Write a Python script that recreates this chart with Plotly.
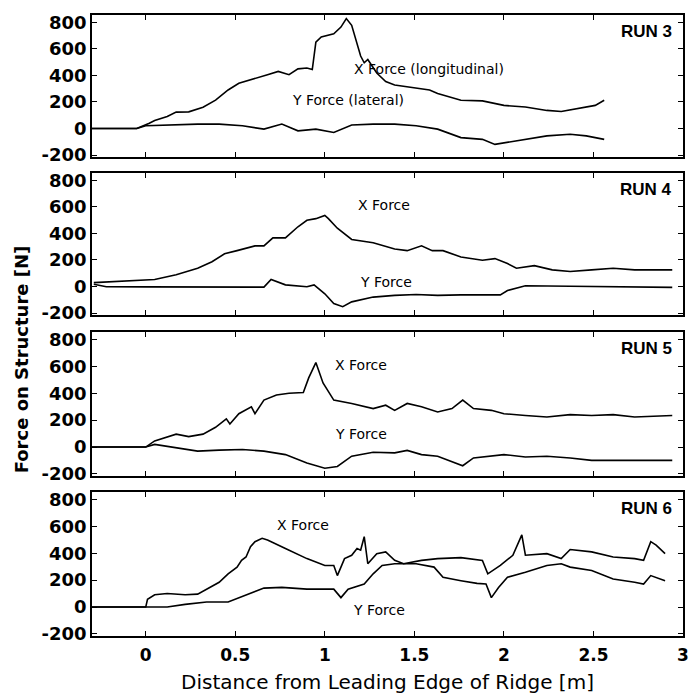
import plotly.graph_objects as go

# ---------------- data ----------------
run3_x_d = [-0.3, -0.05, 0.02, 0.05, 0.12, 0.17, 0.24, 0.32, 0.39, 0.46, 0.52, 0.61, 0.68, 0.74, 0.80, 0.85, 0.90, 0.93,
            0.95, 0.98, 1.05, 1.09, 1.12, 1.15, 1.20, 1.22, 1.24, 1.29, 1.34, 1.39, 1.51, 1.585, 1.63, 1.76, 1.88,
            2.00, 2.12, 2.24, 2.32, 2.41, 2.51, 2.56]
run3_x_f = [0, 0, 40, 60, 90, 123, 125, 160, 213, 290, 341, 380, 405, 430, 405, 449, 456, 444,
            650, 690, 713, 764, 828, 777, 546, 495, 520, 418, 354, 328, 302, 290, 264, 213, 208,
            174, 162, 136, 128, 149, 174, 213]
run3_y_d = [-0.3, -0.05, 0.0, 0.17, 0.29, 0.41, 0.54, 0.66, 0.76, 0.85, 0.95, 1.05, 1.15, 1.27, 1.39, 1.51, 1.63,
            1.76, 1.88, 1.95, 2.07, 2.24, 2.37, 2.46, 2.56]
run3_y_f = [0, 0, 20, 28, 33, 33, 20, -5, 33, -18, -5, -30, 26, 33, 33, 20, -5,
            -69, -82, -120, -95, -56, -44, -56, -82]

run4_x_d = [-0.29, -0.07, 0.05, 0.17, 0.29, 0.37, 0.44, 0.51, 0.61, 0.66, 0.71, 0.78, 0.85, 0.90, 0.95, 1.00, 1.02,
            1.07, 1.15, 1.27, 1.39, 1.46, 1.54, 1.60, 1.66, 1.76, 1.88, 1.95, 2.02, 2.07, 2.17, 2.27, 2.37,
            2.49, 2.61, 2.73, 2.94]
run4_x_f = [29, 41, 53, 89, 137, 186, 246, 270, 306, 306, 366, 366, 450, 499, 511, 535, 511,
            439, 354, 330, 282, 270, 306, 270, 270, 222, 198, 210, 173, 137, 157, 125, 113,
            125, 137, 125, 125]
run4_y_d = [-0.29, -0.22, 0.0, 0.3, 0.66, 0.70, 0.78, 0.90, 0.94, 1.00, 1.05, 1.10, 1.15, 1.27, 1.39, 1.51, 1.63,
            1.76, 1.88, 1.98, 2.02, 2.12, 2.37, 2.61, 2.94]
run4_y_f = [17, -2, -3, -4, -5, 53, 12, -2, 12, -55, -128, -152, -116, -80, -67, -60, -67,
            -63, -60, -63, -31, 5, 2, -2, -7]

run5_x_d = [-0.3, 0.0, 0.05, 0.17, 0.24, 0.32, 0.39, 0.45, 0.47, 0.52, 0.59, 0.61, 0.66, 0.73, 0.80, 0.88, 0.91,
            0.95, 0.99, 1.05, 1.15, 1.27, 1.34, 1.39, 1.46, 1.54, 1.63, 1.71, 1.77, 1.83, 1.93, 2.00, 2.12,
            2.24, 2.37, 2.49, 2.61, 2.73, 2.94]
run5_x_f = [0, 0, 46, 96, 78, 96, 147, 210, 172, 248, 299, 248, 349, 387, 400, 405, 514,
            628, 476, 349, 324, 286, 311, 273, 324, 299, 261, 286, 349, 286, 273, 248, 235,
            223, 241, 235, 241, 223, 235]
run5_y_d = [-0.3, 0.0, 0.05, 0.17, 0.29, 0.41, 0.54, 0.66, 0.78, 0.90, 1.00, 1.07, 1.15, 1.27, 1.39, 1.46, 1.54,
            1.63, 1.77, 1.83, 1.93, 2.00, 2.12, 2.24, 2.37, 2.49, 2.73, 2.94]
run5_y_f = [0, 0, 20, -5, -30, -23, -18, -30, -56, -119, -157, -144, -68, -38, -43, -25, -56,
            -68, -139, -81, -68, -56, -74, -68, -81, -99, -99, -99]

run6_x_d = [-0.3, 0.0, 0.01, 0.05, 0.12, 0.22, 0.29, 0.34, 0.41, 0.46, 0.51, 0.535, 0.56, 0.585, 0.61, 0.65, 0.68,
            0.78, 0.90, 1.00, 1.05, 1.07, 1.11, 1.15, 1.18, 1.20, 1.22, 1.24, 1.29, 1.34, 1.39, 1.44, 1.54,
            1.63, 1.76, 1.88, 1.91, 1.98, 2.05, 2.10, 2.12, 2.24, 2.32, 2.37, 2.49, 2.61, 2.73, 2.78, 2.82,
            2.85, 2.90]
run6_x_f = [0, 0, 58, 91, 101, 91, 96, 133, 184, 247, 297, 347, 372, 448, 486, 511, 498,
            435, 360, 309, 309, 234, 360, 385, 435, 423, 523, 322, 397, 410, 347, 322, 347,
            360, 367, 347, 247, 309, 385, 536, 385, 397, 360, 428, 410, 372, 360, 347, 486,
            460, 397]
run6_y_d = [-0.3, 0.12, 0.22, 0.34, 0.46, 0.56, 0.66, 0.76, 0.90, 1.05, 1.09, 1.13, 1.22, 1.27, 1.32, 1.39, 1.51,
            1.61, 1.66, 1.76, 1.85, 1.90, 1.93, 1.97, 2.02, 2.12, 2.24, 2.32, 2.37, 2.49, 2.61, 2.73, 2.78,
            2.82, 2.90]
run6_y_f = [0, 0, 20, 38, 38, 91, 141, 146, 133, 133, 70, 133, 171, 247, 309, 322, 322,
            297, 221, 196, 176, 171, 70, 146, 221, 259, 309, 322, 297, 272, 209, 184, 171,
            234, 196]

run_names = ["RUN 3", "RUN 4", "RUN 5", "RUN 6"]
x_labels = ["X Force (longitudinal)", "X Force", "X Force", "X Force"]
y_labels = ["Y Force (lateral)", "Y Force", "Y Force", "Y Force"]
x_label_pos = [(1.58, 450), (1.33, 615), (1.20, 607), (0.88, 607)]
y_label_pos = [(1.13, 217), (1.34, 30), (1.20, 97), (1.30, -23)]

x_tick_vals = [0, 0.5, 1, 1.5, 2, 2.5, 3]
x_tick_text = ["0", "0.5", "1", "1.5", "2", "2.5", "3"]
y_tick_vals = [-200, 0, 200, 400, 600, 800]
y_tick_text = ["-200", "0", "200", "400", "600", "800"]

# ---------------- figure ----------------
W, H = 693, 694
M_T, M_B, M_L, M_R = 15, 58, 92, 4
plot_h = H - M_T - M_B
panel_px = [(15, 157), (173, 315), (332, 476), (492, 636)]

def dom(top, bot):
    return [1 - (bot - M_T) / plot_h, 1 - (top - M_T) / plot_h]

series = [
    (run3_x_d, run3_x_f, run3_y_d, run3_y_f),
    (run4_x_d, run4_x_f, run4_y_d, run4_y_f),
    (run5_x_d, run5_x_f, run5_y_d, run5_y_f),
    (run6_x_d, run6_x_f, run6_y_d, run6_y_f),
]

fig = go.Figure()
ARIAL = "Liberation Sans, Arial, sans-serif"
WIDE = "DejaVu Sans, sans-serif"
line = dict(color="black", width=1.6)

layout = dict(
    width=W, height=H,
    margin=dict(t=M_T, b=M_B, l=M_L, r=M_R),
    paper_bgcolor="white", plot_bgcolor="white",
    showlegend=False,
    font=dict(family=ARIAL, color="black"),
)
annotations = []
for i, (xd, xf, yd, yf) in enumerate(series):
    n = "" if i == 0 else str(i + 1)
    xa, ya = "x" + n, "y" + n
    fig.add_trace(go.Scatter(x=xd, y=xf, mode="lines", line=line, xaxis=xa, yaxis=ya))
    fig.add_trace(go.Scatter(x=yd, y=yf, mode="lines", line=line, xaxis=xa, yaxis=ya))
    layout["xaxis" + n] = dict(
        domain=[0, 1], range=[-0.3, 3], anchor=ya,
        tickvals=x_tick_vals, ticktext=x_tick_text,
        showticklabels=(i == 3), ticklabelstandoff=3,
        ticks="inside", ticklen=5, tickwidth=1.2, tickcolor="black",
        showline=True, linecolor="black", linewidth=1.6, mirror="ticks",
        showgrid=False, zeroline=False,
        tickfont=dict(family=WIDE, size=17, weight="bold"),
    )
    layout["yaxis" + n] = dict(
        domain=dom(*panel_px[i]), range=[-215, 855], anchor=xa,
        tickvals=y_tick_vals, ticktext=y_tick_text,
        ticks="inside", ticklen=5, tickwidth=1.2, tickcolor="black",
        showline=True, linecolor="black", linewidth=1.6, mirror="ticks",
        showgrid=False, zeroline=False,
        tickfont=dict(family=WIDE, size=18, weight="bold"),
    )
    annotations.append(dict(text=run_names[i], xref="x" + n + " domain", yref="y" + n + " domain",
                            x=0.985, y=0.965, xanchor="right", yanchor="top", showarrow=False,
                            font=dict(family=ARIAL, size=17, weight="bold")))
    annotations.append(dict(text=x_labels[i], xref=xa, yref=ya, x=x_label_pos[i][0], y=x_label_pos[i][1],
                            showarrow=False, font=dict(family=WIDE, size=14)))
    annotations.append(dict(text=y_labels[i], xref=xa, yref=ya, x=y_label_pos[i][0], y=y_label_pos[i][1],
                            showarrow=False, font=dict(family=WIDE, size=14)))

annotations.append(dict(text="Force on Structure [N]", xref="paper", yref="paper",
                        x=-0.119, xanchor="center", y=0.445, yanchor="middle", textangle=-90,
                        showarrow=False, font=dict(family=WIDE, size=18, weight="bold")))
annotations.append(dict(text="Distance from Leading Edge of Ridge [m]", xref="paper", yref="paper",
                        x=0.5, xanchor="center", y=-0.074, yanchor="middle",
                        showarrow=False, font=dict(family=WIDE, size=20)))
layout["annotations"] = annotations
fig.update_layout(**layout)
fig.write_html("out.html")
